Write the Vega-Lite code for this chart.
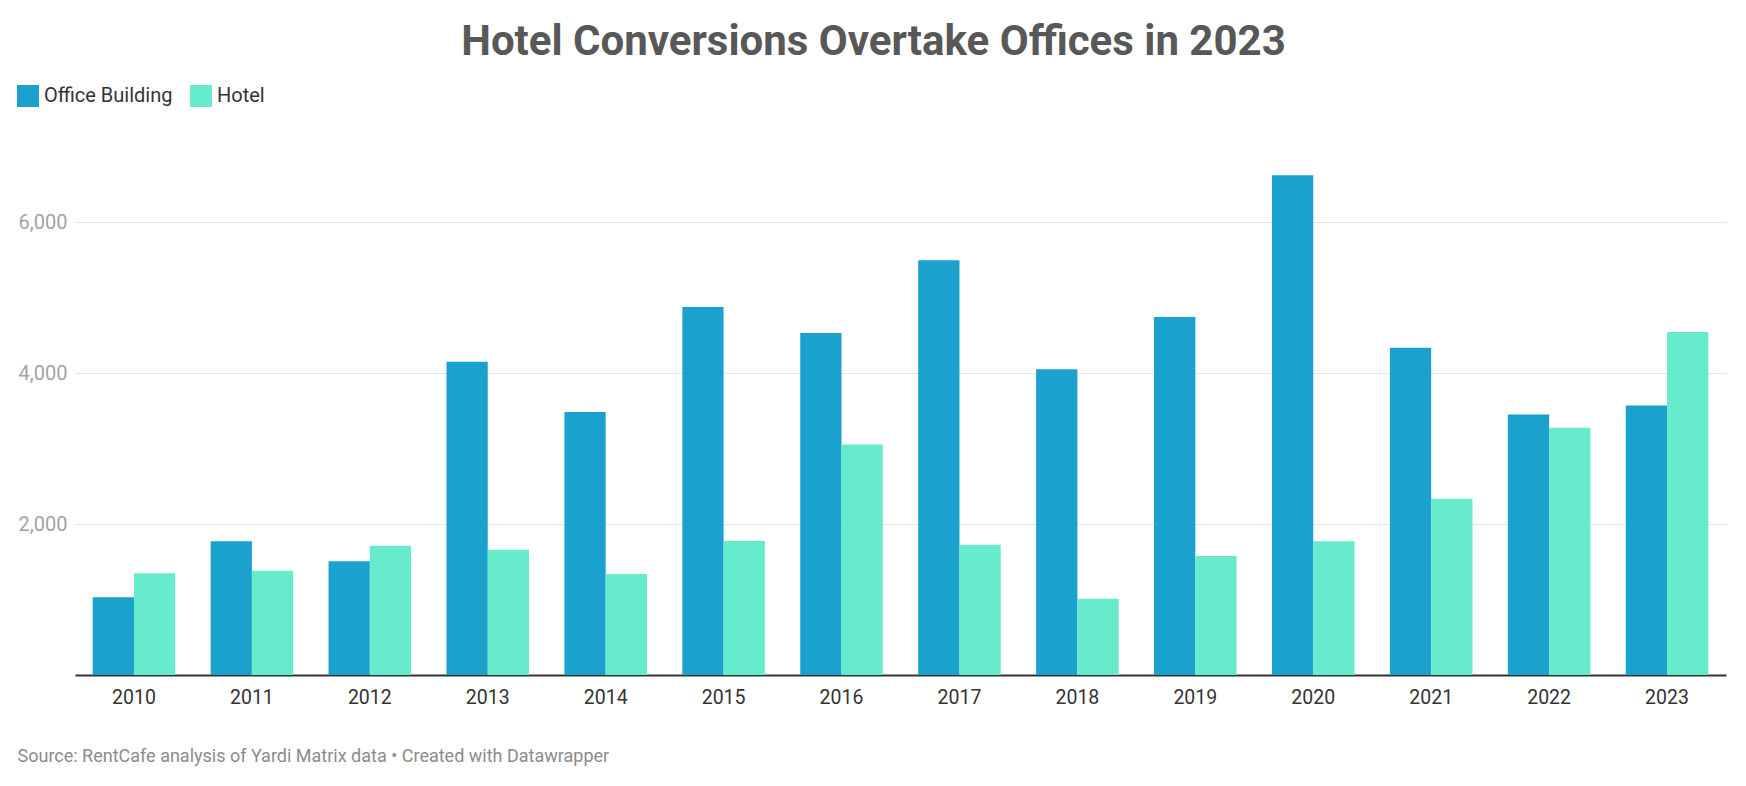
{
  "$schema": "https://vega.github.io/schema/vega-lite/v6.json",
  "autosize": {"type": "none"},
  "width": 1651,
  "height": 528,
  "padding": {"left": 75, "top": 147, "right": 20, "bottom": 111},
  "config": {
    "font": "Roboto",
    "view": {"stroke": null},
    "background": "#ffffff"
  },
  "title": {
    "text": "Hotel Conversions Overtake Offices in 2023",
    "anchor": "middle",
    "frame": "group",
    "dx": -27,
    "offset": 21,
    "fontSize": 42,
    "fontWeight": "bold",
    "color": "#585858"
  },
  "data": {
    "values": [
      {"year": "2010", "type": "Office Building", "units": 1030},
      {"year": "2010", "type": "Hotel", "units": 1348},
      {"year": "2011", "type": "Office Building", "units": 1773},
      {"year": "2011", "type": "Hotel", "units": 1383},
      {"year": "2012", "type": "Office Building", "units": 1507},
      {"year": "2012", "type": "Hotel", "units": 1715},
      {"year": "2013", "type": "Office Building", "units": 4153},
      {"year": "2013", "type": "Hotel", "units": 1662},
      {"year": "2014", "type": "Office Building", "units": 3488},
      {"year": "2014", "type": "Hotel", "units": 1339},
      {"year": "2015", "type": "Office Building", "units": 4879},
      {"year": "2015", "type": "Hotel", "units": 1775},
      {"year": "2016", "type": "Office Building", "units": 4534},
      {"year": "2016", "type": "Hotel", "units": 3055},
      {"year": "2017", "type": "Office Building", "units": 5497},
      {"year": "2017", "type": "Hotel", "units": 1726},
      {"year": "2018", "type": "Office Building", "units": 4053},
      {"year": "2018", "type": "Hotel", "units": 1011},
      {"year": "2019", "type": "Office Building", "units": 4746},
      {"year": "2019", "type": "Hotel", "units": 1576},
      {"year": "2020", "type": "Office Building", "units": 6624},
      {"year": "2020", "type": "Hotel", "units": 1774},
      {"year": "2021", "type": "Office Building", "units": 4339},
      {"year": "2021", "type": "Hotel", "units": 2337},
      {"year": "2022", "type": "Office Building", "units": 3454},
      {"year": "2022", "type": "Hotel", "units": 3279},
      {"year": "2023", "type": "Office Building", "units": 3572},
      {"year": "2023", "type": "Hotel", "units": 4547}
    ]
  },
  "mark": {"type": "bar"},
  "encoding": {
    "x": {
      "field": "year",
      "type": "ordinal",
      "scale": {"paddingInner": 0.3, "paddingOuter": 0.15},
      "axis": {
        "title": "Source: RentCafe analysis of Yardi Matrix data • Created with Datawrapper",
        "titleX": -58,
        "titleY": 81,
        "titleAlign": "left",
        "titleAnchor": "start",
        "titleBaseline": "middle",
        "titleFontSize": 18,
        "titleFontWeight": "normal",
        "titleColor": "#8c8c8c",
        "labelAngle": 0,
        "labelFontSize": 19.5,
        "labelColor": "#333333",
        "labelPadding": 13,
        "ticks": false,
        "domainColor": "#333333",
        "domainWidth": 2
      }
    },
    "xOffset": {
      "field": "type",
      "type": "nominal",
      "sort": ["Office Building", "Hotel"]
    },
    "y": {
      "field": "units",
      "type": "quantitative",
      "scale": {"domain": [0, 7000], "nice": false},
      "axis": {
        "title": null,
        "values": [2000, 4000, 6000],
        "format": ",.0f",
        "domain": false,
        "ticks": false,
        "labelFontSize": 20,
        "labelColor": "#a3a3a3",
        "labelPadding": 8,
        "gridColor": "#e6e6e6",
        "gridWidth": 1
      }
    },
    "color": {
      "field": "type",
      "type": "nominal",
      "sort": ["Office Building", "Hotel"],
      "scale": {
        "domain": ["Office Building", "Hotel"],
        "range": ["#1aa1cd", "#66ebcd"]
      },
      "legend": {
        "title": null,
        "orient": "none",
        "legendX": -58,
        "legendY": -62,
        "direction": "horizontal",
        "symbolType": "square",
        "symbolSize": 484,
        "symbolStrokeWidth": 0,
        "labelFontSize": 20,
        "labelColor": "#333333",
        "labelOffset": 5,
        "columnPadding": 17
      }
    }
  }
}
